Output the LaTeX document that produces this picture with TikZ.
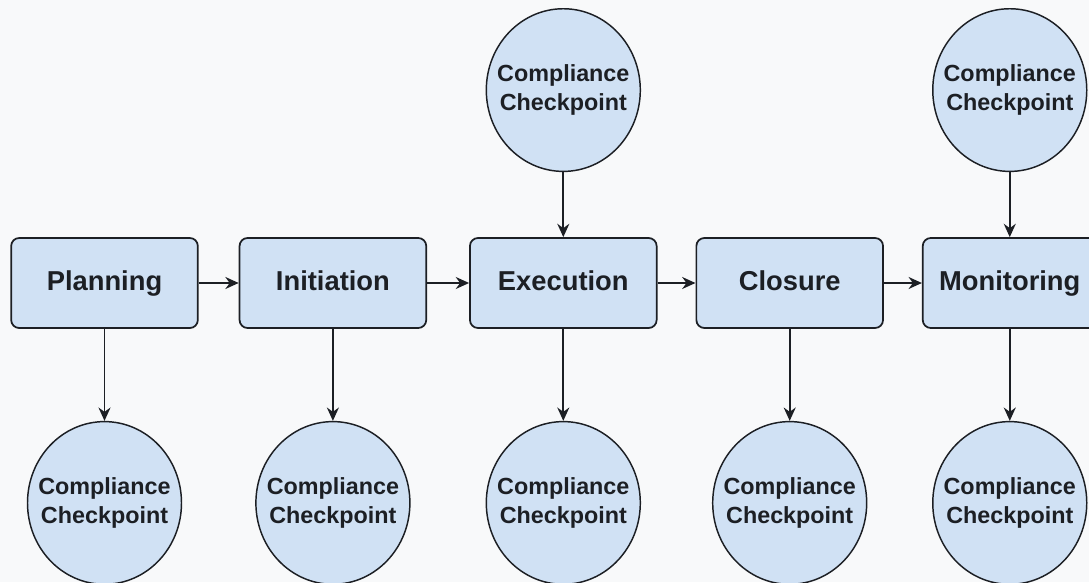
\documentclass[tikz,border=0pt]{standalone}
\usepackage{fontspec}
\setmainfont{Liberation Sans}
\usepackage{xcolor}
\usepackage{tikz}
\usetikzlibrary{shapes.geometric, arrows.meta, positioning}
\definecolor{stagefill}{HTML}{D0E1F4}
\definecolor{paper}{HTML}{F8F9FA}
\definecolor{ink}{HTML}{1C1F24}
\tikzstyle{stage} = [rectangle, rounded corners=6pt, minimum width=140pt, minimum height=67.5pt, text height=15pt, text depth=4pt, text centered, draw=ink, line width=1.3pt, fill=stagefill, text=ink, font=\bfseries\fontsize{20.5}{24}\selectfont]
\tikzstyle{checkpoint} = [ellipse, minimum width=115.5pt, minimum height=122pt, inner sep=-10pt, align=center, draw=ink, line width=1.1pt, fill=stagefill, text=ink, font=\bfseries\fontsize{17.5}{21.5}\selectfont]
\tikzstyle{arrow} = [line width=1.4pt, draw=ink, -{Stealth[length=10pt, width=9pt]}]

\begin{document}
\begin{tikzpicture}[x=0.75pt, y=-0.75pt]
        \useasboundingbox (0,0) rectangle (1089,582);
        \fill [paper] (0,0) rectangle (1089,582);
        % Project stages
        \node (plan) [stage] at (104.5,283) {Planning};
        \node (init) [stage, right=30pt of plan] {Initiation};
        \node (exec) [stage, right=31.5pt of init] {Execution};
        \node (clos) [stage, right=28.5pt of exec] {Closure};
        \node (moni) [stage, minimum width=130.5pt, right=28.5pt of clos] {Monitoring};
        \draw [arrow] (plan) -- (init);
        \draw [arrow] (init) -- (exec);
        \draw [arrow] (exec) -- (clos);
        \draw [arrow] (clos) -- (moni);
        % Checkpoints below each stage
        \node (cpPlan) [checkpoint, below=69pt of plan] {Compliance\\Checkpoint};
        \node (cpInit) [checkpoint, below=69pt of init] {Compliance\\Checkpoint};
        \node (cpExec) [checkpoint, below=69pt of exec] {Compliance\\Checkpoint};
        \node (cpClos) [checkpoint, below=69pt of clos] {Compliance\\Checkpoint};
        \node (cpMoni) [checkpoint, below=69pt of moni] {Compliance\\Checkpoint};
        \draw [arrow] (plan) -- (cpPlan);
        \draw [arrow] (init) -- (cpInit);
        \draw [arrow] (exec) -- (cpExec);
        \draw [arrow] (clos) -- (cpClos);
        \draw [arrow] (moni) -- (cpMoni);
        % Checkpoints feeding in from above
        \node (upExec) [checkpoint, above=48.75pt of exec] {Compliance\\Checkpoint};
        \node (upMoni) [checkpoint, above=48.75pt of moni] {Compliance\\Checkpoint};
        \draw [arrow] (upExec) -- (exec);
        \draw [arrow] (upMoni) -- (moni);
    \end{tikzpicture}
\end{document}
